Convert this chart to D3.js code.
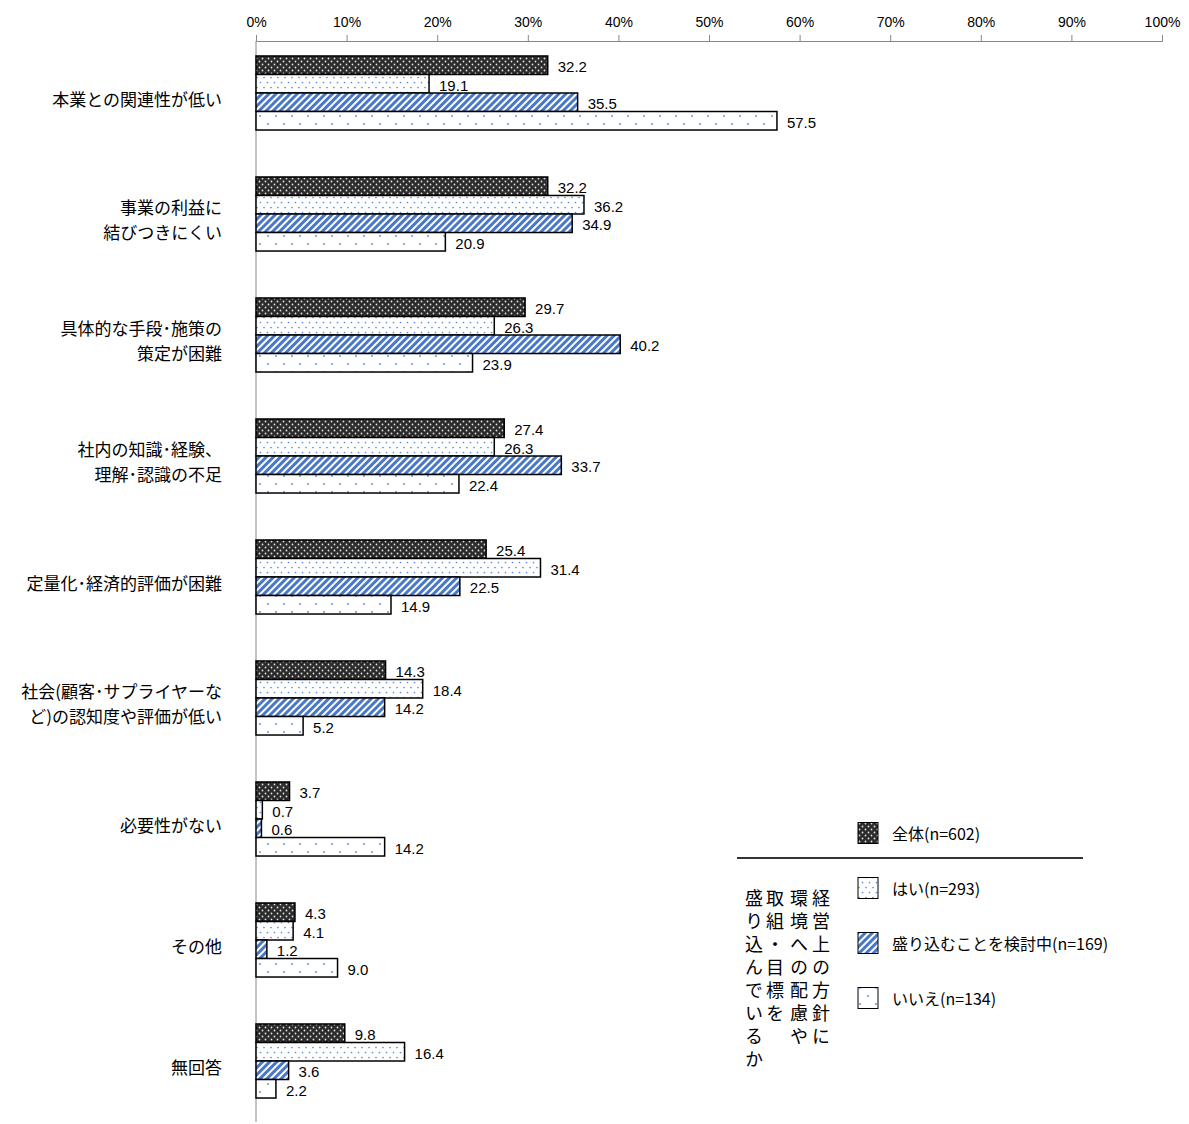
<!DOCTYPE html>
<html>
<head>
<meta charset="utf-8">
<script src="https://cdn.jsdelivr.net/npm/d3@7"></script>
<style>
  body { margin: 0; background: #fff; }
  svg { display: block; font-family: "Noto Sans CJK JP", "Noto Sans", sans-serif; }
  .cat-label { font-size: 17px; fill: #000; }
  .val-label { font-size: 15px; fill: #000; }
  .legend-text { font-size: 16px; fill: #000; }
  .vtext { font-size: 18px; fill: #000; writing-mode: vertical-rl; letter-spacing: 5px; }
</style>
</head>
<body>
<div id="chart"></div>
<script>
/* data */
const categories = [
  ["本業との関連性が低い"],
  ["事業の利益に", "結びつきにくい"],
  ["具体的な手段･施策の", "策定が困難"],
  ["社内の知識･経験、", "理解･認識の不足"],
  ["定量化･経済的評価が困難"],
  ["社会(顧客･サプライヤーな", "ど)の認知度や評価が低い"],
  ["必要性がない"],
  ["その他"],
  ["無回答"]
];
const seriesNames = [
  "全体(n=602)",
  "はい(n=293)",
  "盛り込むことを検討中(n=169)",
  "いいえ(n=134)"
];
const allValues = [32.2, 32.2, 29.7, 27.4, 25.4, 14.3, 3.7, 4.3, 9.8];
const yesValues = [19.1, 36.2, 26.3, 26.3, 31.4, 18.4, 0.7, 4.1, 16.4];
const consideringValues = [35.5, 34.9, 40.2, 33.7, 22.5, 14.2, 0.6, 1.2, 3.6];
const noValues = [57.5, 20.9, 23.9, 22.4, 14.9, 5.2, 14.2, 9.0, 2.2];
const xTicks = [0, 10, 20, 30, 40, 50, 60, 70, 80, 90, 100];
const legendTitle = ["経営上の方針に", "環境への配慮や", "取組・目標を", "盛り込んでいるか"];

const seriesValues = [allValues, yesValues, consideringValues, noValues];
const patternIds = ["pat-all", "pat-yes", "pat-consider", "pat-no"];

/* svg setup */
const width = 1189, height = 1124;
const svg = d3.select("#chart").append("svg")
  .attr("width", width)
  .attr("height", height);

/* patterns */
const defs = svg.append("defs");
let p = defs.append("pattern").attr("id", "pat-all")
  .attr("patternUnits", "userSpaceOnUse").attr("width", 6).attr("height", 6);
p.append("rect").attr("width", 6).attr("height", 6).attr("fill", "#2b2b2b");
p.append("circle").attr("cx", 1.5).attr("cy", 1.5).attr("r", 0.9).attr("fill", "#e0e0e0");
p.append("circle").attr("cx", 4.5).attr("cy", 4.5).attr("r", 0.9).attr("fill", "#e0e0e0");

p = defs.append("pattern").attr("id", "pat-yes")
  .attr("patternUnits", "userSpaceOnUse").attr("width", 7).attr("height", 10);
p.append("rect").attr("width", 7).attr("height", 10).attr("fill", "#fff");
p.append("circle").attr("cx", 1.5).attr("cy", 2.5).attr("r", 0.85).attr("fill", "#5b8bd8");
p.append("circle").attr("cx", 5).attr("cy", 7.5).attr("r", 0.85).attr("fill", "#5b8bd8");

p = defs.append("pattern").attr("id", "pat-consider")
  .attr("patternUnits", "userSpaceOnUse").attr("width", 5).attr("height", 5)
  .attr("patternTransform", "rotate(45)");
p.append("rect").attr("width", 5).attr("height", 5).attr("fill", "#fff");
p.append("rect").attr("width", 3).attr("height", 5).attr("fill", "#4a78c8");

p = defs.append("pattern").attr("id", "pat-no")
  .attr("patternUnits", "userSpaceOnUse").attr("width", 16).attr("height", 16);
p.append("rect").attr("width", 16).attr("height", 16).attr("fill", "#fff");
p.append("circle").attr("cx", 4).attr("cy", 4).attr("r", 0.9).attr("fill", "#5b8bd8");
p.append("circle").attr("cx", 12).attr("cy", 12).attr("r", 0.9).attr("fill", "#5b8bd8");

/* scales */
const x = d3.scaleLinear().domain([0, 100]).range([256, 1162]);
const y = d3.scaleBand()
  .domain(d3.range(categories.length))
  .range([32.5, 1121.5])
  .paddingInner(0.388)
  .paddingOuter(0.194);
const ySub = d3.scaleBand()
  .domain(d3.range(seriesNames.length))
  .range([0, y.bandwidth()]);

/* x axis on top */
svg.append("g")
  .attr("transform", "translate(0,41)")
  .call(d3.axisTop(x).tickValues(xTicks).tickFormat((d) => d + "%").tickSize(6).tickPadding(8))
  .call((g) => g.selectAll("path, line").attr("stroke", "#888"))
  .selectAll("text")
  .attr("fill", "#000")
  .style("font-size", "14px")
  .style("font-family", "'Liberation Sans', Arial, sans-serif");

/* y axis line */
svg.append("line")
  .attr("x1", x(0)).attr("x2", x(0))
  .attr("y1", 41).attr("y2", 1122)
  .attr("stroke", "#888");

/* category labels (one text per line) */
categories.forEach((lines, i) => {
  const cy = y(i) + y.bandwidth() / 2 + 5;
  lines.forEach((line, j) => {
    svg.append("text")
      .attr("class", "cat-label")
      .attr("text-anchor", "end")
      .attr("dominant-baseline", "central")
      .attr("x", 222)
      .attr("y", cy + (j - (lines.length - 1) / 2) * 25)
      .text(line);
  });
});

/* bars */
seriesValues.forEach((vals, s) => {
  const g = svg.append("g");
  g.selectAll("rect")
    .data(vals)
    .enter()
    .append("rect")
    .attr("x", x(0))
    .attr("y", (d, i) => y(i) + ySub(s))
    .attr("width", (d) => x(d) - x(0))
    .attr("height", ySub.bandwidth())
    .attr("fill", `url(#${patternIds[s]})`)
    .attr("stroke", "#000")
    .attr("stroke-width", 1.5);

  g.selectAll("text")
    .data(vals)
    .enter()
    .append("text")
    .attr("class", "val-label")
    .attr("x", (d) => x(d) + 10)
    .attr("y", (d, i) => y(i) + ySub(s) + ySub.bandwidth() / 2 + 1.5)
    .attr("dominant-baseline", "central")
    .style("font-family", "'Liberation Sans', Arial, sans-serif")
    .text((d) => d.toFixed(1));
});

/* legend */
const legendY = [833, 888, 943, 998];
seriesNames.forEach((name, s) => {
  svg.append("rect")
    .attr("x", 858).attr("y", legendY[s] - 10.5)
    .attr("width", 20).attr("height", 21)
    .attr("fill", `url(#${patternIds[s]})`)
    .attr("stroke", "#000")
    .attr("stroke-width", 1);
  svg.append("text")
    .attr("class", "legend-text")
    .attr("x", 892).attr("y", legendY[s])
    .attr("dominant-baseline", "central")
    .text(name);
});
svg.append("line")
  .attr("x1", 737).attr("x2", 1083)
  .attr("y1", 858).attr("y2", 858)
  .attr("stroke", "#333").attr("stroke-width", 2);

/* vertical legend title */
const colX = [821, 799, 775, 754];
legendTitle.forEach((line, c) => {
  svg.append("text")
    .attr("class", "vtext")
    .attr("x", colX[c])
    .attr("y", 889)
    .text(line);
});
</script>
</body>
</html>
